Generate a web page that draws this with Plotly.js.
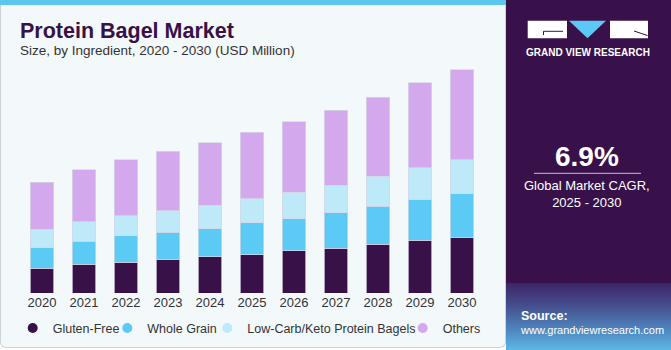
<!DOCTYPE html>
<html>
<head>
<meta charset="utf-8">
<script src="https://cdn.plot.ly/plotly-3.0.1.min.js"></script>
<style>
  html, body { margin: 0; padding: 0; background: #ffffff; }
  #wrap { position: relative; width: 671px; height: 350px; overflow: hidden; font-family: "Liberation Sans", Arial, sans-serif; }
  #leftPanel { position: absolute; left: 0; top: 0; width: 506px; height: 348px; box-sizing: border-box;
               background: #f3f8fb; border: 1px solid #cfd3d6; border-top: none; border-radius: 0 0 6px 6px; }
  #stripe { position: absolute; left: 0; top: 0; width: 506px; height: 5px; background: #5cc6ef; }
  #rightPanel { position: absolute; left: 506px; top: 0; width: 165px; height: 283px; background: #38114a; }
  #sourceBox { position: absolute; left: 506px; top: 283px; width: 165px; height: 67px;
               background: linear-gradient(180deg, #3d2566 0%, #45508f 35%, #4f86bf 70%, #5ab8e4 100%); }
  #chart { position: absolute; left: 0; top: 0; width: 671px; height: 350px; }
</style>
</head>
<body>
<div id="wrap">
  <div id="leftPanel"></div>
  <div id="stripe"></div>
  <div id="rightPanel"></div>
  <div id="sourceBox"></div>
  <div id="chart"></div>
</div>
<script>
// ---- Data (USD Million) ----
const years = ['2020','2021','2022','2023','2024','2025','2026','2027','2028','2029','2030'];
const glutenFree = [43.3, 50.3, 54.3, 59.0, 63.1, 67.1, 73.6, 78.8, 85.8, 92.3, 97.6];
const wholeGrain = [36.1, 40.3, 46.1, 47.3, 49.6, 56.1, 56.6, 61.9, 66.0, 71.1, 75.9];
const lowCarb    = [32.2, 34.3, 35.0, 37.8, 41.0, 42.0, 46.2, 48.5, 53.1, 56.1, 59.6];
const others     = [82.3, 90.6, 98.1, 104.6, 109.6, 116.3, 123.2, 131.4, 137.9, 148.9, 157.7];
const seriesNames = ['Gluten-Free', 'Whole Grain', 'Low-Carb/Keto Protein Bagels', 'Others'];
const highlightYear = '2024';
const highlightLabel = '$263.3M';
const chartTitle = 'Protein Bagel Market';
const chartSubtitle = 'Size, by Ingredient, 2020 - 2030 (USD Million)';
const cagrValue = '6.9%';
const cagrLabel = 'Global Market CAGR,<br>2025 - 2030';
const brandName = 'GRAND VIEW RESEARCH';
const sourceTitle = 'Source:';
const sourceUrl = 'www.grandviewresearch.com';

// ---- Styling ----
const colors = ['#371148', '#5bcbf5', '#bde9f9', '#d4a8ec'];
const W = 671, H = 350;
const M = {l: 21, r: 188, t: 60, b: 57, autoexpand: false};
const plotW = W - M.l - M.r, plotH = H - M.t - M.b;
const X = px => (px - M.l) / plotW;
const Y = py => (H - M.b - py) / plotH;

const seriesData = [glutenFree, wholeGrain, lowCarb, others];
const traces = [];
seriesData.forEach((vals, i) => {
  traces.push({
    type: 'bar', x: years, y: vals, name: seriesNames[i],
    marker: {color: colors[i], line: {color: 'rgba(215,215,232,0.9)', width: 0.8}},
    showlegend: false, hoverinfo: 'x+y+name'
  });
});
// legend entries (circle symbols), each in its own positioned legend
const legendCircleX = [37.7, 132.3, 232.3, 427.7];
seriesNames.forEach((n, i) => {
  traces.push({
    type: 'scatter', mode: 'markers', x: [null], y: [null], name: n,
    marker: {color: colors[i], size: 10, symbol: 'circle'},
    showlegend: true, legend: i === 0 ? 'legend' : 'legend' + (i + 1), hoverinfo: 'skip'
  });
});

const legendFont = {family: '"Liberation Sans", Arial, sans-serif', size: 12.5, color: '#333333'};
const mkLegend = cx => ({orientation: 'h', x: X(cx - 25), xanchor: 'left', y: Y(328.3), yanchor: 'middle',
                         bgcolor: 'rgba(0,0,0,0)', font: legendFont});
const layout = {
  width: W, height: H,
  margin: M,
  paper_bgcolor: 'rgba(0,0,0,0)', plot_bgcolor: 'rgba(0,0,0,0)',
  barmode: 'stack', bargap: 0.45,
  font: {family: '"Liberation Sans", Arial, sans-serif', color: '#333333'},
  xaxis: {type: 'category', range: [-0.5, 10.5], showgrid: false, zeroline: false, showline: false,
          ticks: '', tickfont: {size: 13, color: '#333333'}, fixedrange: true},
  yaxis: {range: [0, 408.2], visible: false, showgrid: false, zeroline: false, fixedrange: true},
  annotations: [
    {x: highlightYear, y: 263.3, xref: 'x', yref: 'y', text: highlightLabel, showarrow: false,
     yanchor: 'bottom', yshift: 5, font: {size: 13, color: '#333333'}},
    {x: X(18), y: Y(30.5), xref: 'paper', yref: 'paper', xanchor: 'left', yanchor: 'middle', showarrow: false,
     text: '<b>' + chartTitle + '</b>', font: {size: 21.5, color: '#371148'}},
    {x: X(18), y: Y(50), xref: 'paper', yref: 'paper', xanchor: 'left', yanchor: 'middle', showarrow: false,
     text: chartSubtitle, font: {size: 13.5, color: '#333333'}},
    {x: X(588), y: Y(52.5), xref: 'paper', yref: 'paper', xanchor: 'center', yanchor: 'middle', showarrow: false,
     text: '<b>' + brandName + '</b>', font: {size: 10, color: '#ffffff'}},
    {x: X(587), y: Y(156), xref: 'paper', yref: 'paper', xanchor: 'center', yanchor: 'middle', showarrow: false,
     text: '<b>' + cagrValue + '</b>', font: {size: 28, color: '#ffffff'}},
    {x: X(587), y: Y(194), xref: 'paper', yref: 'paper', xanchor: 'center', yanchor: 'middle', showarrow: false,
     text: cagrLabel, font: {size: 13, color: '#ffffff'}},
    {x: X(519), y: Y(316), xref: 'paper', yref: 'paper', xanchor: 'left', yanchor: 'middle', showarrow: false,
     text: '<b>' + sourceTitle + '</b>', font: {size: 12.5, color: '#ffffff'}},
    {x: X(518), y: Y(329.5), xref: 'paper', yref: 'paper', xanchor: 'left', yanchor: 'middle', showarrow: false,
     text: sourceUrl, font: {size: 11, color: '#ffffff'}}
  ],
  shapes: [
    // logo
    {type: 'rect', xref: 'paper', yref: 'paper', x0: X(527.7), x1: X(567), y0: Y(38.3), y1: Y(20.7),
     fillcolor: '#ffffff', line: {width: 0}},
    {type: 'path', xref: 'paper', yref: 'paper',
     path: 'M ' + X(569) + ' ' + Y(20.7) + ' L ' + X(606) + ' ' + Y(20.7) + ' L ' + X(587.5) + ' ' + Y(38.3) + ' Z',
     fillcolor: '#5bc8f5', line: {width: 0}},
    {type: 'rect', xref: 'paper', yref: 'paper', x0: X(610), x1: X(648), y0: Y(38.3), y1: Y(20.7),
     fillcolor: '#ffffff', line: {width: 0}},
    {type: 'path', xref: 'paper', yref: 'paper',
     path: 'M ' + X(543.5) + ' ' + Y(35) + ' L ' + X(543.5) + ' ' + Y(31.3) + ' L ' + X(563) + ' ' + Y(31.3),
     line: {color: '#38114a', width: 1}},
    {type: 'line', xref: 'paper', yref: 'paper', x0: X(634), y0: Y(31), x1: X(647.5), y1: Y(35.5),
     line: {color: '#38114a', width: 1}},
    // CAGR divider
    {type: 'line', xref: 'paper', yref: 'paper', x0: X(534), x1: X(641), y0: Y(173.3), y1: Y(173.3),
     line: {color: '#c9bfd6', width: 1}}
  ],
  legend:  mkLegend(legendCircleX[0]),
  legend2: mkLegend(legendCircleX[1]),
  legend3: mkLegend(legendCircleX[2]),
  legend4: mkLegend(legendCircleX[3]),
  hovermode: 'closest'
};

Plotly.newPlot('chart', traces, layout, {displayModeBar: false});
</script>
</body>
</html>
